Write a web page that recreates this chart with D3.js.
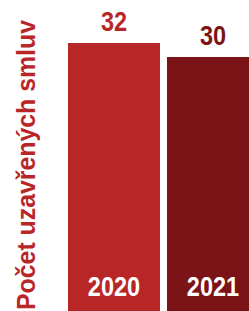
<!DOCTYPE html>
<html>
<head>
<meta charset="utf-8">
<script src="https://cdn.jsdelivr.net/npm/d3@7"></script>
<style>
  html, body { margin: 0; padding: 0; background: #fff; overflow: hidden; }
  text { font-family: "Liberation Sans", Arial, sans-serif; font-weight: bold; }
</style>
</head>
<body>
<div id="chart"></div>
<script>
const years = ["2020", "2021"];
const values = [32, 30];
const colors = ["#b92628", "#7b1416"];
const yTitle = "Počet uzavřených smluv";

const w = 249, h = 311;
const narrow = 0.84; // squeeze to mimic a condensed face

const svg = d3.select("#chart")
    .append("svg")
    .attr("width", w)
    .attr("height", h);

// bars run off the bottom and right edge of the frame
const xScale = d3.scaleBand()
    .domain(years)
    .range([68, 259])
    .paddingInner(0.0707);

const yScale = d3.scaleLinear()
    .domain([-6.3, 32])
    .range([311, 43]);

svg.selectAll("rect.bar")
    .data(years)
    .enter().append("rect")
    .attr("class", "bar")
    .attr("x", d => xScale(d))
    .attr("y", (d, i) => yScale(values[i]))
    .attr("width", xScale.bandwidth())
    .attr("height", (d, i) => yScale(-6.3) - yScale(values[i]))
    .attr("fill", (d, i) => colors[i]);

// value labels above bars
svg.selectAll("g.val")
    .data(years)
    .enter().append("g")
    .attr("class", "val")
    .attr("transform", (d, i) => `translate(${xScale(d) + xScale.bandwidth() / 2},${yScale(values[i]) - 12}) scale(${narrow},1)`)
    .append("text")
    .attr("text-anchor", "middle")
    .attr("font-size", 28)
    .attr("fill", (d, i) => colors[i])
    .text((d, i) => values[i]);

// year labels inside bars
svg.selectAll("g.year")
    .data(years)
    .enter().append("g")
    .attr("class", "year")
    .attr("transform", d => `translate(${xScale(d) + xScale.bandwidth() / 2},296) scale(${narrow},1)`)
    .append("text")
    .attr("text-anchor", "middle")
    .attr("font-size", 28)
    .attr("fill", "#fff")
    .text(d => d);

svg.append("text")
    .attr("transform", "translate(35,165) rotate(-90)")
    .attr("text-anchor", "middle")
    .attr("font-size", 25)
    .attr("textLength", 290)
    .attr("lengthAdjust", "spacingAndGlyphs")
    .attr("fill", colors[0])
    .text(yTitle);
</script>
</body>
</html>
